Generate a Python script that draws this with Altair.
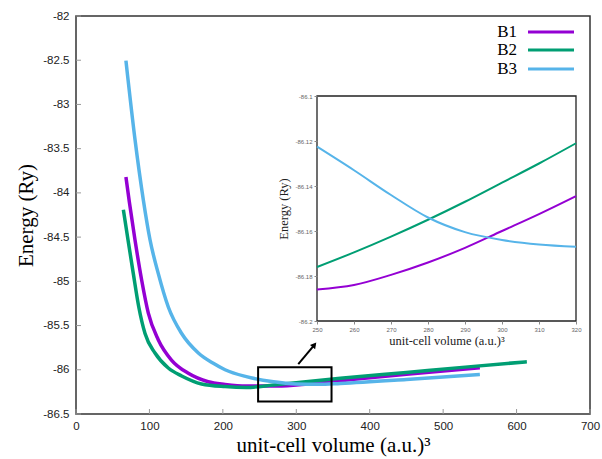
import altair as alt
import pandas as pd

# ---------------- data ----------------
series = ["B1", "B2", "B3"]
colors = ["#9400D3", "#009E73", "#56B4E9"]

# main panel
b1_v = [68, 72.6, 80.3, 89.4, 98.5, 112, 130, 153, 180, 203, 232, 269, 300, 360, 450, 550]
b1_e = [-83.82, -84.10, -84.53, -84.985, -85.36, -85.66, -85.89, -86.04, -86.135, -86.165,
        -86.184, -86.184, -86.172, -86.123, -86.05, -85.977]

b2_v = [64.5, 70.8, 78, 85.5, 94, 107.6, 125.7, 143.9, 171, 203, 232, 269, 300, 360, 450, 530, 614]
b2_e = [-84.19, -84.53, -84.91, -85.29, -85.59, -85.81, -85.98, -86.07, -86.16, -86.19,
        -86.20, -86.172, -86.146, -86.097, -86.03, -85.97, -85.909]

b3_v = [68, 80.4, 91.7, 100.8, 112, 125.7, 143.9, 166.6, 187, 203, 232, 269, 300, 330, 360, 450, 550]
b3_e = [-82.505, -83.40, -84.08, -84.53, -84.91, -85.29, -85.59, -85.81, -85.927, -86.0,
        -86.078, -86.135, -86.16, -86.165, -86.155, -86.11, -86.052]

# inset panel
inset_v = [250, 260, 270, 280, 290, 300, 310, 320]
inset_b1 = [-86.186, -86.184, -86.1795, -86.174, -86.1675, -86.160, -86.1525, -86.1445]
inset_b2 = [-86.176, -86.1695, -86.1625, -86.155, -86.147, -86.1385, -86.130, -86.121]
inset_b3 = [-86.1225, -86.133, -86.144, -86.154, -86.1605, -86.164, -86.166, -86.167]

# zoom box and arrow (data coordinates of the main panel)
box_v = [248, 348]
box_e = [-85.972, -86.36]
arrow_v = [302.7, 324.7]
arrow_e = [-85.935, -85.718]

# ticks / domains
x_ticks = [0, 100, 200, 300, 400, 500, 600, 700]
y_ticks = [-82, -82.5, -83, -83.5, -84, -84.5, -85, -85.5, -86, -86.5]
x_domain = [0, 700]
y_domain = [-86.5, -82]
inset_x_ticks = [250, 260, 270, 280, 290, 300, 310, 320]
inset_y_ticks = [-86.2, -86.18, -86.16, -86.14, -86.12, -86.1]
inset_x_domain = [250, 320]
inset_y_domain = [-86.2, -86.1]

# ---------------- tables ----------------
main_df = pd.concat([
    pd.DataFrame({"v": b1_v, "E": b1_e, "series": "B1"}),
    pd.DataFrame({"v": b2_v, "E": b2_e, "series": "B2"}),
    pd.DataFrame({"v": b3_v, "E": b3_e, "series": "B3"}),
], ignore_index=True)

inset_df = pd.concat([
    pd.DataFrame({"vi": inset_v, "Ei": inset_b1, "series": "B1"}),
    pd.DataFrame({"vi": inset_v, "Ei": inset_b2, "series": "B2"}),
    pd.DataFrame({"vi": inset_v, "Ei": inset_b3, "series": "B3"}),
], ignore_index=True)

W, H = 514, 398
SERIF = "Liberation Serif"
SANS = "Liberation Sans"

color = alt.Color("series:N", scale=alt.Scale(domain=series, range=colors), legend=None)

# ---------------- main panel ----------------
xs = alt.Scale(domain=x_domain, nice=False, zero=False)
ys = alt.Scale(domain=y_domain, nice=False, zero=False)

axis_x = alt.Axis(values=x_ticks, ticks=False, domain=False, grid=False, labelFlush=False,
                  labelFont=SANS, labelFontSize=11.5, labelColor="#222", labelPadding=6,
                  labelExpr="'' + datum.value",
                  title="unit-cell volume (a.u.)³", titleFont=SERIF, titleFontSize=21,
                  titleFontWeight="normal", titleColor="#000", titlePadding=3)
axis_y = alt.Axis(values=y_ticks, ticks=False, domain=False, grid=False,
                  labelFont=SANS, labelFontSize=11.5, labelColor="#222", labelPadding=7,
                  labelExpr="'' + datum.value",
                  title="Energy (Ry)", titleFont=SERIF, titleFontSize=21,
                  titleFontWeight="normal", titleColor="#000", titlePadding=6)

X = alt.X("v:Q", scale=xs, axis=axis_x)
Y = alt.Y("E:Q", scale=ys, axis=axis_y)

lines = alt.Chart(main_df).mark_line(strokeWidth=3.5, interpolate="monotone").encode(
    x=X, y=Y, color=color, detail="series:N")

box = alt.Chart(pd.DataFrame({"v": [box_v[0]], "v2": [box_v[1]],
                              "E": [box_e[0]], "E2": [box_e[1]]})).mark_rect(
    fill=None, fillOpacity=0, stroke="#000", strokeWidth=2).encode(
    x=X, x2="v2:Q", y=Y, y2="E2:Q")

arrow_line = alt.Chart(pd.DataFrame({"v": [arrow_v[0]], "v2": [arrow_v[1]],
                                     "E": [arrow_e[0]], "E2": [arrow_e[1]]})).mark_rule(
    stroke="#000", strokeWidth=2).encode(x=X, x2="v2:Q", y=Y, y2="E2:Q")

arrow_head = alt.Chart(pd.DataFrame({"v": [arrow_v[1]], "E": [arrow_e[1]]})).mark_point(
    shape="triangle-up", filled=True, color="#000", size=45, angle=40, opacity=1).encode(x=X, y=Y)

xtick = alt.Chart(pd.DataFrame({"v": x_ticks})).mark_rule(color="#999", strokeWidth=1).encode(
    x=X, y=alt.value(H), y2=alt.value(H - 5))
ytick = alt.Chart(pd.DataFrame({"E": y_ticks})).mark_rule(color="#999", strokeWidth=1).encode(
    y=Y, x=alt.value(0), x2=alt.value(5))

legend_layers = []
leg_y = [16, 34, 53]
for name, yy in zip(series, leg_y):
    d = pd.DataFrame({"series": [name]})
    legend_layers.append(
        alt.Chart(d).mark_text(font=SERIF, fontSize=17, align="right", baseline="middle",
                               color="#000").encode(
            x=alt.value(441), y=alt.value(yy), text="series:N"))
    legend_layers.append(
        alt.Chart(d).mark_rule(strokeWidth=3).encode(
            x=alt.value(452), x2=alt.value(498), y=alt.value(yy), color=color))

main = alt.layer(lines, box, arrow_line, arrow_head, xtick, ytick, *legend_layers)

# ---------------- inset panel ----------------
IX0, IX1 = 317 - 76, 576 - 76
IY0, IY1 = 321 - 16, 96 - 16
ixs = alt.Scale(domain=inset_x_domain, range=[IX0, IX1], nice=False, zero=False)
iys = alt.Scale(domain=inset_y_domain, range=[IY0, IY1], nice=False, zero=False)

iaxis_x = alt.Axis(values=inset_x_ticks, orient="bottom", offset=-(H - IY0), zindex=1,
                   domain=False, grid=False, tickSize=3, tickColor="#888", labelFlush=False,
                   labelFont=SANS, labelFontSize=6, labelColor="#666", labelPadding=2,
                   labelExpr="'' + datum.value",
                   title="unit-cell volume (a.u.)³", titleFont=SERIF, titleFontSize=12.5,
                   titleFontWeight="normal", titleColor="#222", titlePadding=2)
iaxis_y = alt.Axis(values=inset_y_ticks, orient="left", offset=-IX0, zindex=1,
                   domain=False, grid=False, tickSize=3, tickColor="#888",
                   labelFont=SANS, labelFontSize=6, labelColor="#666", labelPadding=2,
                   labelExpr="'' + datum.value",
                   title="Energy (Ry)", titleFont=SERIF, titleFontSize=12.5,
                   titleFontWeight="normal", titleColor="#222", titlePadding=4)

IX = alt.X("vi:Q", scale=ixs, axis=iaxis_x)
IY = alt.Y("Ei:Q", scale=iys, axis=iaxis_y)

frame = alt.Chart(pd.DataFrame({"vi": [inset_x_domain[0]], "vi2": [inset_x_domain[1]],
                                "Ei": [inset_y_domain[0]], "Ei2": [inset_y_domain[1]]})).mark_rect(
    fill="white", stroke="#222", strokeWidth=1.3).encode(x=IX, x2="vi2:Q", y=IY, y2="Ei2:Q")

inset_lines = alt.Chart(inset_df).mark_line(strokeWidth=2, interpolate="monotone").encode(
    x=IX, y=IY, color=color, detail="series:N")

inset = alt.layer(frame, inset_lines)

chart = alt.layer(main, inset).resolve_scale(x="independent", y="independent").properties(
    width=W, height=H,
    autosize=alt.AutoSizeParams(type="none"),
    padding={"left": 76, "top": 16, "right": 12, "bottom": 45},
    background="white",
).configure_view(stroke="#333", strokeWidth=1.5)

chart.save("out.html", embed_options={"renderer": "svg", "actions": False})
